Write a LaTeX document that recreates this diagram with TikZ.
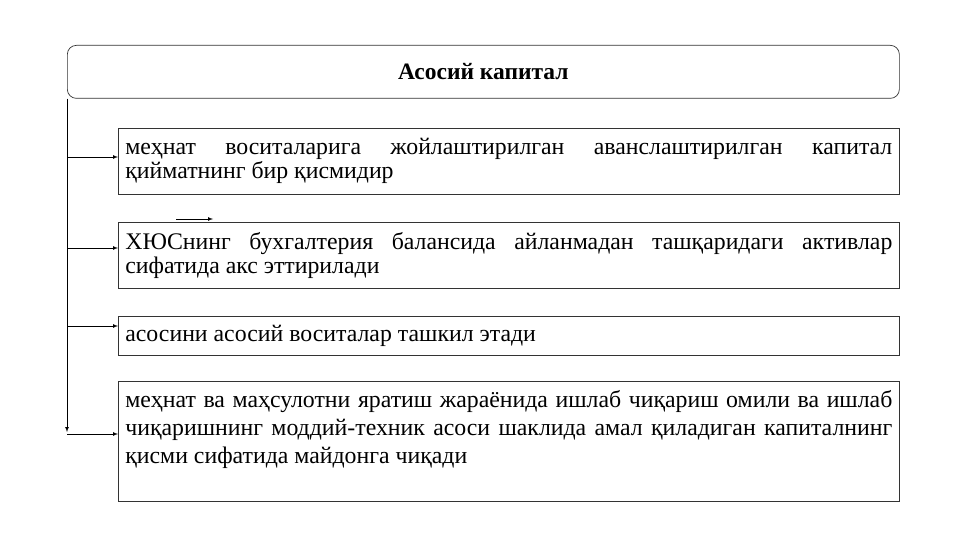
\documentclass[tikz,border=0pt]{standalone}
\usepackage{fontspec}
\setmainfont{Liberation Serif}
\usetikzlibrary{arrows, positioning}
\tikzstyle{header} = [rectangle, rounded corners=9pt, draw=black!80, line width=0.7pt,
minimum width=832pt, minimum height=53pt, anchor=north west, font=\bfseries\fontsize{23.5}{26}\selectfont]
\tikzstyle{boxes} = [rectangle, draw=black!80, line width=0.7pt, anchor=north west,
inner xsep=7pt, inner ysep=4pt, text width=767pt, minimum width=781pt, align=justify,
font=\fontsize{23.8}{24}\selectfont]
\tikzstyle{line} = [line width=0.7pt, -, >=latex]
\tikzstyle{arrow} = [line width=0.7pt, ->, >=latex]

\begin{document}
\begin{tikzpicture}[x=1pt, y=-1pt]
    \useasboundingbox (0,0) rectangle (961,540);

    \node (head) [header] at (67,45) {Асосий капитал};
    \node (b1) [boxes, minimum height=66pt] at (118,128) {меҳнат воситаларига жойлаштирилган аванслаштирилган капитал қийматнинг бир қисмидир};
    \node (b2) [boxes, minimum height=66pt] at (118,222) {ХЮСнинг бухгалтерия балансида айланмадан ташқаридаги активлар сифатида акс эттирилади};
    \node (b3) [boxes, minimum height=39pt] at (118,316) {асосини асосий воситалар ташкил этади};
    \node (b4) [boxes, minimum height=120pt, font=\fontsize{23.8}{28}\selectfont] at (118,381) {меҳнат ва маҳсулотни яратиш жараёнида ишлаб чиқариш омили ва ишлаб чиқаришнинг моддий-техник асоси шаклида амал қиладиган капиталнинг қисми сифатида майдонга чиқади\par\rule{0pt}{14pt}};

    \coordinate (trunk) at (67,432);
    \coordinate (j1) at (67,157);
    \coordinate (j2) at (67,248);
    \coordinate (j3) at (67,326);
    \coordinate (j4) at (67,434);
    \coordinate (s1) at (176,219);
    \coordinate (s2) at (213,219);

    \draw[arrow] (head.south west) -- (trunk);
    \draw[arrow] (j1) -- (j1 -| b1.west);
    \draw[arrow] (j2) -- (j2 -| b2.west);
    \draw[arrow] (j3) -- (j3 -| b3.west);
    \draw[arrow] (j4) -- (j4 -| b4.west);
    \draw[arrow] (s1) -- (s2);

\end{tikzpicture}
\end{document}
